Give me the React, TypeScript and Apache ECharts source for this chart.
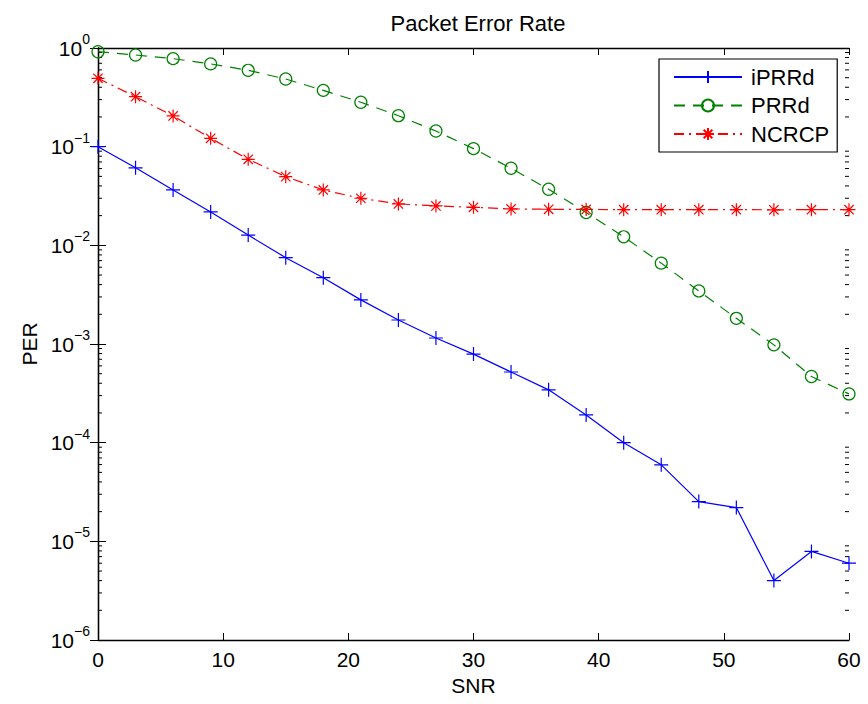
import React, { useEffect, useRef } from "react";
import * as echarts from "echarts";

// SNR sample points (dB)
const snr = [0, 3, 6, 9, 12, 15, 18, 21, 24, 27, 30, 33, 36, 39, 42, 45, 48, 51, 54, 57, 60];

// Packet error rate per scheme
const iprrd = [
  0.1, 0.061, 0.0364, 0.0218, 0.0127, 0.0075, 0.0047, 0.0028, 0.00175, 0.00115, 0.00079,
  0.00052, 0.000343, 0.000191, 0.0001, 5.96e-5, 2.53e-5, 2.2e-5, 4.0e-6, 7.9e-6, 6.0e-6,
];
const prrd = [
  0.917, 0.85, 0.78, 0.69, 0.594, 0.485, 0.372, 0.282, 0.206, 0.144, 0.0955, 0.0604, 0.037,
  0.0215, 0.0122, 0.0066, 0.00345, 0.00182, 0.00098, 0.000468, 0.000312,
];
const ncrcp = [
  0.493, 0.321, 0.205, 0.1216, 0.0745, 0.0497, 0.0364, 0.03, 0.0263, 0.0251, 0.0243, 0.0234,
  0.0232, 0.0231, 0.023, 0.023, 0.023, 0.023, 0.0229, 0.023, 0.023,
];

const seriesNames = ["iPRRd", "PRRd", "NCRCP"];

// Log axis decades and the minor (2..9 x 10^k) tick values
const yMinExp = -6;
const yMaxExp = 0;
const minorTickValues: number[] = [];
for (let k = yMinExp; k < yMaxExp; k++) {
  for (let m = 2; m <= 9; m++) minorTickValues.push(m * Math.pow(10, k));
}

const FONT = "'Liberation Sans', Arial, Helvetica, sans-serif";
const PLUS = "path://M0,-1L0,1M-1,0L1,0";
const STAR = "path://M0,-1L0,1M-1,0L1,0M-0.72,-0.72L0.72,0.72M-0.72,0.72L0.72,-0.72";

const pairs = (ys: number[]) => snr.map((x, i) => [x, ys[i]]);

export default function App() {
  const ref = useRef<HTMLDivElement>(null);

  useEffect(() => {
    if (!ref.current) return;
    const chart = echarts.init(ref.current, null, { renderer: "svg" });

    const expLabel = (v: number) => {
      const e = Math.round(Math.log10(v));
      const s = e < 0 ? "\u2212" + -e : String(e);
      return `{b|10}{e|${s}}`;
    };

    const axisLineStyle = { color: "#000", width: 1.3 };

    chart.setOption({
      animation: false,
      backgroundColor: "#fff",
      textStyle: { fontFamily: FONT },
      title: {
        text: "Packet Error Rate",
        left: 473,
        top: 7,
        textAlign: "center",
        textStyle: { fontFamily: FONT, fontSize: 22, fontWeight: "normal", color: "#000" },
      },
      grid: { left: 98, right: 19, top: 48, bottom: 64, containLabel: false },
      legend: {
        data: seriesNames,
        orient: "vertical",
        left: 659,
        top: 59,
        padding: [7, 8, 7, 14],
        itemWidth: 68,
        itemHeight: 15,
        itemGap: 6.5,
        backgroundColor: "#fff",
        borderColor: "#000",
        borderWidth: 1.2,
        borderRadius: 0,
        textStyle: {
          fontFamily: FONT,
          fontSize: 22,
          lineHeight: 22,
          color: "#000",
          padding: [0, 0, 0, 4],
        },
      },
      xAxis: [
        {
          type: "value",
          min: 0,
          max: 60,
          interval: 10,
          position: "bottom",
          name: "SNR",
          nameLocation: "middle",
          nameGap: 27,
          nameTextStyle: { fontFamily: FONT, fontSize: 21, color: "#000" },
          axisLine: { lineStyle: axisLineStyle },
          axisTick: { inside: true, length: 7, lineStyle: { color: "#000" } },
          axisLabel: { fontFamily: FONT, fontSize: 21, color: "#000", margin: 9 },
          splitLine: { show: false },
        },
        {
          type: "value",
          min: 0,
          max: 60,
          interval: 10,
          position: "top",
          axisLine: { lineStyle: axisLineStyle },
          axisTick: { inside: true, length: 7, lineStyle: { color: "#000" } },
          axisLabel: { show: false },
          splitLine: { show: false },
        },
      ],
      yAxis: [
        {
          type: "log",
          logBase: 10,
          min: Math.pow(10, yMinExp),
          max: Math.pow(10, yMaxExp),
          interval: 1,
          position: "left",
          name: "PER",
          nameLocation: "middle",
          nameGap: 56,
          nameTextStyle: { fontFamily: FONT, fontSize: 21, color: "#000" },
          axisLine: { show: true, lineStyle: axisLineStyle },
          axisTick: { show: true, inside: true, length: 8, lineStyle: { color: "#000" } },
          axisLabel: {
            margin: 8,
            color: "#000",
            formatter: expLabel,
            rich: {
              b: { fontFamily: FONT, fontSize: 21, lineHeight: 32, verticalAlign: "middle", color: "#000" },
              e: { fontFamily: FONT, fontSize: 14, lineHeight: 14, verticalAlign: "top", color: "#000" },
            },
          },
          splitLine: { show: false },
        },
        {
          type: "log",
          logBase: 10,
          min: Math.pow(10, yMinExp),
          max: Math.pow(10, yMaxExp),
          interval: 1,
          position: "right",
          axisLine: { show: true, lineStyle: axisLineStyle },
          axisTick: { show: true, inside: true, length: 8, lineStyle: { color: "#000" } },
          axisLabel: { show: false },
          splitLine: { show: false },
        },
      ],
      series: [
        {
          // minor log ticks on the left and right frame edges
          type: "custom",
          name: "minorTicks",
          silent: true,
          xAxisIndex: 0,
          yAxisIndex: 0,
          data: minorTickValues.map((v) => [0, v]),
          renderItem: (params: any, api: any) => {
            const pt = api.coord([0, api.value(1)]);
            const cs = params.coordSys;
            const style = { stroke: "#000", lineWidth: 1 };
            return {
              type: "group",
              children: [
                { type: "line", shape: { x1: cs.x, y1: pt[1], x2: cs.x + 4, y2: pt[1] }, style },
                {
                  type: "line",
                  shape: { x1: cs.x + cs.width, y1: pt[1], x2: cs.x + cs.width - 4, y2: pt[1] },
                  style,
                },
              ],
            };
          },
          z: 1,
        },
        {
          name: "iPRRd",
          type: "line",
          data: pairs(iprrd),
          symbol: PLUS,
          symbolSize: 14,
          showAllSymbol: true,
          lineStyle: { color: "#0000ff", width: 1.2, type: "solid" },
          itemStyle: { color: "#0000ff", borderColor: "#0000ff", borderWidth: 1.2 },
          z: 3,
        },
        {
          name: "PRRd",
          type: "line",
          data: pairs(prrd),
          symbol: "circle",
          symbolSize: 12,
          showAllSymbol: true,
          lineStyle: { color: "#008000", width: 1.2, type: [11, 8] },
          itemStyle: { color: "transparent", borderColor: "#008000", borderWidth: 1.2 },
          z: 4,
        },
        {
          name: "NCRCP",
          type: "line",
          data: pairs(ncrcp),
          symbol: STAR,
          symbolSize: 13,
          showAllSymbol: true,
          lineStyle: { color: "#ff0000", width: 1.2, type: [10, 5, 2, 5] },
          itemStyle: { color: "#ff0000", borderColor: "#ff0000", borderWidth: 1.2 },
          z: 5,
        },
      ],
    });

    return () => chart.dispose();
  }, []);

  return (
    <div
      ref={ref}
      style={{ position: "absolute", left: 0, top: 0, width: 868, height: 704, background: "#fff" }}
    />
  );
}
